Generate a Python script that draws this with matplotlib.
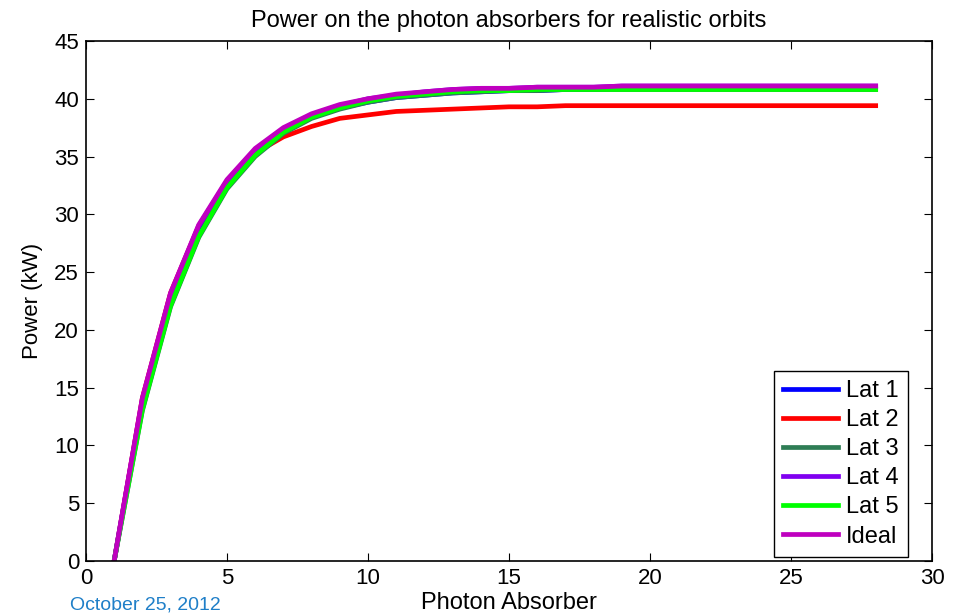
import numpy as np
import matplotlib.pyplot as plt

plt.rcParams['font.family'] = ['Liberation Sans', 'DejaVu Sans']

absorber = np.arange(1, 29)

lat1 = [0, 13.8, 22.9, 28.8, 32.6, 35.4, 37.2, 38.4, 39.2, 39.7, 40.1, 40.3, 40.5, 40.6,
        40.7, 40.7, 40.8, 40.8, 40.9, 40.9, 41.0, 41.0, 41.0, 41.0, 41.0, 41.0, 41.0, 41.0]
lat2 = [0, 14.1, 23.2, 29.0, 32.8, 35.3, 36.7, 37.6, 38.3, 38.6, 38.9, 39.0, 39.1, 39.2,
        39.3, 39.3, 39.4, 39.4, 39.4, 39.4, 39.4, 39.4, 39.4, 39.4, 39.4, 39.4, 39.4, 39.4]
lat3 = [0, 13.0, 22.0, 28.0, 32.2, 35.0, 37.0, 38.3, 39.1, 39.7, 40.1, 40.3, 40.5, 40.6,
        40.7, 40.7, 40.8, 40.8, 40.8, 40.8, 40.8, 40.8, 40.8, 40.8, 40.8, 40.8, 40.8, 40.8]
lat4 = [0, 14.0, 23.1, 29.0, 32.9, 35.6, 37.4, 38.6, 39.4, 40.0, 40.3, 40.6, 40.8, 40.9,
        40.9, 41.0, 41.0, 41.0, 41.1, 41.1, 41.1, 41.1, 41.1, 41.1, 41.1, 41.1, 41.1, 41.1]
lat5 = [0, 13.1, 22.1, 28.1, 32.3, 35.1, 37.1, 38.4, 39.2, 39.8, 40.2, 40.4, 40.6, 40.7,
        40.7, 40.8, 40.8, 40.8, 40.8, 40.8, 40.8, 40.8, 40.8, 40.8, 40.8, 40.8, 40.8, 40.8]
ideal = [0, 14.1, 23.2, 29.1, 33.0, 35.7, 37.5, 38.7, 39.5, 40.0, 40.4, 40.6, 40.8, 40.9,
         40.9, 41.0, 41.0, 41.0, 41.1, 41.1, 41.1, 41.1, 41.1, 41.1, 41.1, 41.1, 41.1, 41.1]

series = [("Lat 1", lat1, "#0000ff"),
          ("Lat 2", lat2, "#ff0000"),
          ("Lat 3", lat3, "#2e7d55"),
          ("Lat 4", lat4, "#8000f0"),
          ("Lat 5", lat5, "#00ff00"),
          ("Ideal", ideal, "#bf00bf")]

fig = plt.figure(figsize=(9.55, 6.14), dpi=100)
ax = fig.add_axes([0.090, 0.0863, 0.886, 0.847])

for name, vals, col in series:
    ax.plot(absorber, vals, color=col, lw=3.4, label=name)

ax.set_xlim(0, 30)
ax.set_ylim(0, 45)
ax.set_xticks(range(0, 31, 5))
ax.set_yticks(range(0, 46, 5))
ax.tick_params(direction='in', top=True, right=True, labelsize=16, length=6, pad=5)
for s in ax.spines.values():
    s.set_linewidth(1.2)

ax.set_title("Power on the photon absorbers for realistic orbits", fontsize=17, pad=10)
ax.set_xlabel("Photon Absorber", fontsize=17, labelpad=2)
ax.set_ylabel("Power (kW)", fontsize=16, labelpad=8)

leg = ax.legend(loc='lower right', bbox_to_anchor=(0.9716, 0.0077), borderaxespad=0,
                fontsize=17, fancybox=False, framealpha=1, edgecolor='black',
                handlelength=2.3, handletextpad=0.35, labelspacing=0.3, borderpad=0.4)
leg.get_frame().set_linewidth(1.0)

fig.text(0.073, 0.008, "October 25, 2012", color="#1f7fc8", fontsize=14, va='baseline')

fig.savefig("out.png", dpi=100)
